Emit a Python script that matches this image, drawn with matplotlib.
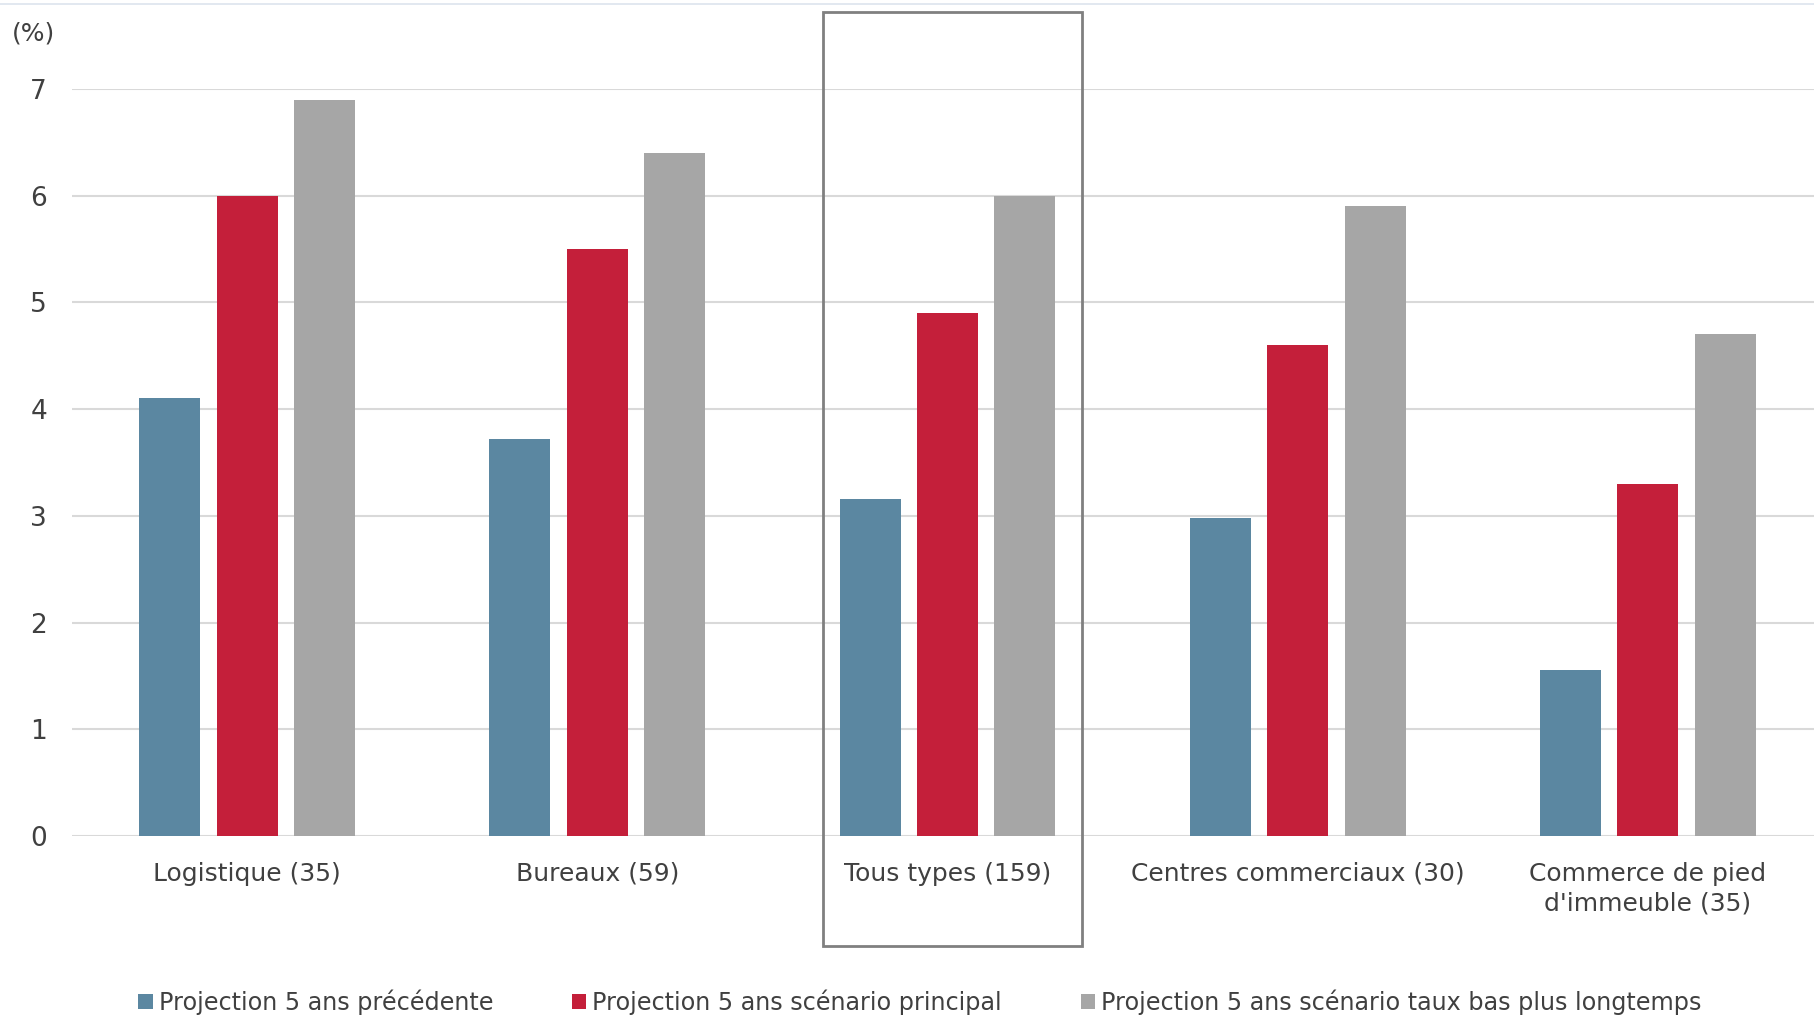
import numpy as np
import matplotlib.pyplot as plt
from matplotlib.patches import Rectangle
from matplotlib.lines import Line2D

# --- données ---
categories = ['Logistique (35)', 'Bureaux (59)', 'Tous types (159)',
              'Centres commerciaux (30)', "Commerce de pied\nd'immeuble (35)"]
series_names = ['Projection 5 ans précédente',
                'Projection 5 ans scénario principal',
                'Projection 5 ans scénario taux bas plus longtemps']
precedente = [4.1, 3.72, 3.16, 2.98, 1.56]
principal = [6.0, 5.5, 4.9, 4.6, 3.3]
taux_bas = [6.9, 6.4, 6.0, 5.9, 4.7]
y_ticks = [0, 1, 2, 3, 4, 5, 6, 7]

colors = ['#5B87A1', '#C41F3A', '#A6A6A6']
text_color = '#404040'
W, H = 1814, 1018

fig = plt.figure(figsize=(W / 100, H / 100), dpi=100)
# la zone de tracé déborde un peu à droite de la figure
ax = fig.add_axes([72 / W, 1 - 836 / H, 1751 / W, (836 - 89) / H])

x = np.arange(len(categories))
width = 0.174
offset = 0.221
for i, vals in enumerate([precedente, principal, taux_bas]):
    ax.bar(x + (i - 1) * offset, vals, width, color=colors[i],
           label=series_names[i], zorder=3)

ax.set_xlim(-0.5, len(categories) - 0.5)
ax.set_ylim(0, 7)
ax.set_yticks(y_ticks)
ax.set_xticks(x)
ax.set_xticklabels(categories, fontsize=18, color=text_color, linespacing=1.3)
ax.tick_params(axis='y', length=0, pad=18, labelsize=19, labelcolor=text_color)
ax.tick_params(axis='x', length=0, pad=18.5)
ax.grid(axis='y', color='#D9D9D9', lw=1.5, zorder=0)
for s in ax.spines.values():
    s.set_visible(False)

fig.text(33 / W, 1 - 33 / H, '(%)', fontsize=18, color=text_color,
         ha='center', va='center')

# cadre autour de « Tous types »
fig.patches.append(Rectangle((823 / W, 1 - 946 / H), (1082 - 823) / W,
                             (946 - 12) / H, transform=fig.transFigure,
                             fill=False, ec='#808080', lw=2))
# filet du haut
fig.add_artist(Line2D([0, 1], [1 - 4 / H, 1 - 4 / H], color='#DDE4EE', lw=1.2))

handles, labels = ax.get_legend_handles_labels()
leg = fig.legend(handles, labels, loc='center', bbox_to_anchor=(920 / W, 1 - 1002 / H),
                 ncol=3, frameon=False, handlelength=0.6, handleheight=0.6,
                 handletextpad=0.25, columnspacing=3.3,
                 prop={'size': 17.2})
for t in leg.get_texts():
    t.set_color(text_color)

fig.savefig('out.png', dpi=100)
